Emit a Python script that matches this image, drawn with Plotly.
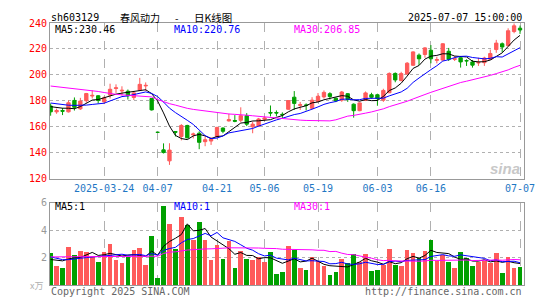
import plotly.graph_objects as go

# ---------------- data ----------------
dates = ["2025-03-11","2025-03-12","2025-03-13","2025-03-14","2025-03-17","2025-03-18","2025-03-19","2025-03-20","2025-03-21",
         "2025-03-24","2025-03-25","2025-03-26","2025-03-27","2025-03-28","2025-03-31","2025-04-01","2025-04-02","2025-04-03",
         "2025-04-07","2025-04-08","2025-04-09","2025-04-10","2025-04-11","2025-04-14","2025-04-15","2025-04-16","2025-04-17",
         "2025-04-18","2025-04-21","2025-04-22","2025-04-23","2025-04-24","2025-04-25","2025-04-28","2025-04-29","2025-04-30",
         "2025-05-06","2025-05-07","2025-05-08","2025-05-09","2025-05-12","2025-05-13","2025-05-14","2025-05-15","2025-05-16",
         "2025-05-19","2025-05-20","2025-05-21","2025-05-22","2025-05-23","2025-05-26","2025-05-27","2025-05-28","2025-05-29",
         "2025-05-30","2025-06-03","2025-06-04","2025-06-05","2025-06-06","2025-06-09","2025-06-10","2025-06-11","2025-06-12",
         "2025-06-13","2025-06-16","2025-06-17","2025-06-18","2025-06-19","2025-06-20","2025-06-23","2025-06-24","2025-06-25",
         "2025-06-26","2025-06-27","2025-06-30","2025-07-01","2025-07-02","2025-07-03","2025-07-04","2025-07-07"]

opens = [176.0,171.5,172.5,171.5,180.3,173.8,180.1,183.7,183.9,
         179.3,184.4,189.5,187.6,187.4,182.6,188.1,191.5,181.8,
         155.7,142.2,133.7,156.3,152.5,161.0,153.8,155.0,148.5,
         149.0,152.5,159.0,164.5,164.8,165.0,168.5,160.0,160.5,
         165.8,171.0,171.0,169.6,173.5,182.8,176.5,176.8,174.2,
         179.5,183.0,185.5,182.0,180.5,185.5,177.4,172.4,180.3,
         184.7,184.7,180.5,186.2,201.1,195.6,200.6,207.4,215.2,
         215.7,219.0,211.2,211.4,218.2,212.0,213.2,211.0,210.0,
         209.2,209.4,212.0,219.5,224.0,222.5,233.4,236.0]
highs = [178.0,174.0,174.5,180.3,182.6,182.3,186.1,188.1,184.4,
         183.5,193.2,192.7,191.2,188.7,187.6,197.7,194.2,181.8,
         155.7,147.2,147.3,156.5,162.0,161.5,155.5,156.5,152.5,
         152.0,160.0,159.5,170.0,169.0,175.0,170.5,164.0,166.8,
         168.0,176.4,172.6,171.1,180.6,187.5,179.1,178.0,182.8,
         186.0,188.0,186.6,182.5,187.6,186.0,178.0,178.8,187.2,
         186.2,185.5,189.3,201.9,201.9,202.4,209.9,218.2,216.5,
         221.5,223.0,214.0,224.5,220.8,214.5,213.5,212.0,211.5,
         213.2,214.0,219.5,227.0,225.0,235.9,239.6,238.0]
lows = [168.5,170.0,169.0,171.0,172.5,173.0,178.6,181.8,178.0,
        177.5,181.8,186.1,184.1,181.0,180.6,187.6,187.6,172.5,
        155.7,139.4,130.6,152.5,149.5,151.0,151.0,142.7,145.0,
        146.0,151.5,155.0,164.0,163.5,163.5,160.5,155.0,160.0,
        164.5,168.0,168.0,166.8,173.0,173.0,173.0,172.6,173.5,
        179.0,181.7,181.0,179.0,179.2,179.2,167.0,172.0,179.8,
        181.7,176.2,179.2,186.0,194.3,195.0,200.3,206.9,207.4,
        213.2,208.9,208.9,211.0,210.7,210.7,205.6,206.9,205.6,
        206.9,206.9,211.5,217.0,217.5,222.0,232.1,231.6]
closes = [171.5,172.5,172.0,178.5,175.0,179.8,185.6,184.2,180.3,
          182.3,188.9,190.0,188.1,183.9,186.1,192.7,191.9,173.0,
          155.7,140.1,142.0,155.8,161.0,151.5,154.4,148.0,150.0,
          150.5,159.5,156.5,165.5,164.3,168.5,162.0,162.0,166.0,
          166.8,170.6,170.6,169.3,180.2,178.0,177.0,176.5,180.5,
          183.5,186.5,183.3,180.0,186.8,181.0,172.4,178.4,186.1,
          182.7,181.7,188.0,201.1,196.1,201.0,209.0,217.7,212.4,
          220.8,212.4,211.8,224.0,212.0,212.4,210.0,210.8,207.5,
          209.5,213.0,216.5,224.5,221.5,234.0,237.8,234.6]
volumes = [2.35,1.38,1.23,2.78,2.18,2.47,2.42,2.03,1.69,
           2.42,3.00,1.84,1.62,2.03,2.57,2.71,1.48,3.58,
           0.53,5.81,4.46,2.66,4.96,4.41,3.27,4.65,3.30,
           1.85,2.95,1.90,3.25,1.25,2.50,1.90,1.85,2.05,
           1.70,2.40,0.80,0.97,2.85,2.56,1.24,1.10,2.05,
           1.76,1.39,0.73,0.97,1.90,1.60,2.27,1.68,2.27,
           1.02,1.10,1.51,2.63,1.51,1.39,2.56,2.34,1.98,
           2.49,3.29,1.76,2.20,1.71,1.24,2.41,1.98,1.39,
           1.68,1.76,1.61,2.34,0.88,2.05,1.24,1.32]

# moving-average values at the left edge (their history lies before the chart)
price_ma5_head = [175.5,174.8,174.3,174.3]
price_ma10_head = [178.3,177.6,176.9,176.6,176.5,176.5,176.7,177.2,177.8]
price_ma30_head = [191.4,190.9,190.4,189.8,189.3,188.9,188.5,188.1,187.2,186.4,185.6,185.0,184.6,184.2,
                   184.0,183.8,183.5,183.0,181.0,179.3,177.8,176.7,175.3,174.2,173.4,172.8,172.2,171.6,170.9]
vol_ma5_head = [1.86,1.80,1.76,1.90]
vol_ma10_head = [2.05,1.95,1.85,1.85,1.88,1.95,2.00,2.03,2.05]
vol_ma30_head = [2.05]*18 + [2.10,2.30,2.40,2.42,2.50,2.55,2.58,2.63,2.63,2.64,2.64]

tick_dates = ["2025-03-24","2025-04-07","2025-04-21","2025-05-06","2025-05-19","2025-06-03","2025-06-16","2025-07-07"]
tick_texts = ["2025-03-24","04-07","04-21","05-06","05-19","06-03","06-16","07-07"]
price_ticks = [120,140,160,180,200,220,240]
vol_ticks = [2,4,6]

stock_code = "sh603129"
title_name = "春风动力"
title_sep = "-"
title_kind = "日K线图"
time_text = "2025-07-07 15:00:00"
ma_price_labels = ["MA5:230.46", "MA10:220.76", "MA30:206.85"]
ma_vol_labels = ["MA5:1", "MA10:1", "MA30:1"]

# ---------------- helpers ----------------
def rolling(vals, n, head):
    out = list(head)
    for i in range(len(head), len(vals)):
        out.append(sum(vals[i - n + 1:i + 1]) / n)
    return out

RED = "#ff5a5a"
GREEN = "#00a000"
MONO = "DejaVu Sans Mono"
CJK = "Noto Sans CJK SC"

# the page body has an 8px margin; the figure is sized so the plot sits where the reference has it
OFF = 8
W, H = 545 - OFF, 300 - OFF
PLOT_L, PLOT_R, PLOT_T, PLOT_B = 50, 529, 17.5, 286   # page pixels of the plot area
ML, MR = PLOT_L - OFF, W - (PLOT_R - OFF)
MT, MB = PLOT_T - OFF, H - (PLOT_B - OFF)
PW, PH = PLOT_R - PLOT_L, PLOT_B - PLOT_T

def px(x):
    return (x - PLOT_L) / PW

def py(y):
    return (PLOT_B - y) / PH

main_dom = [py(177), 1.0]
vol_dom = [0, py(201.7)]

fig = go.Figure()

fig.add_trace(go.Candlestick(
    x=dates, open=opens, high=highs, low=lows, close=closes,
    increasing=dict(line=dict(color=RED, width=1), fillcolor=RED),
    decreasing=dict(line=dict(color=GREEN, width=1), fillcolor=GREEN),
    whiskerwidth=0, xaxis="x", yaxis="y", showlegend=False, hoverinfo="skip"))

for vals, head, n, col in [(closes, price_ma5_head, 5, "black"),
                           (closes, price_ma10_head, 10, "#0000ff"),
                           (closes, price_ma30_head, 30, "#ff00ff")]:
    fig.add_trace(go.Scatter(x=dates, y=rolling(vals, n, head), mode="lines",
                             line=dict(color=col, width=1), xaxis="x", yaxis="y",
                             showlegend=False, hoverinfo="skip"))

vol_colors = [RED if c > o else GREEN for o, c in zip(opens, closes)]
fig.add_trace(go.Bar(x=dates, y=volumes, marker=dict(color=vol_colors, line=dict(width=0)),
                     width=0.78, xaxis="x2", yaxis="y2", showlegend=False, hoverinfo="skip"))

for vals, head, n, col in [(volumes, vol_ma5_head, 5, "black"),
                           (volumes, vol_ma10_head, 10, "#0000ff"),
                           (volumes, vol_ma30_head, 30, "#ff00ff")]:
    fig.add_trace(go.Scatter(x=dates, y=rolling(vals, n, head), mode="lines",
                             line=dict(color=col, width=1), xaxis="x2", yaxis="y2",
                             showlegend=False, hoverinfo="skip"))

xr = [-0.11, 79.67]
axis_common = dict(showline=True, mirror=True, linecolor="#999999", linewidth=1,
                   zeroline=False, fixedrange=True)

fig.update_layout(
    width=W, height=H,
    margin=dict(l=ML, r=MR, t=MT, b=MB, pad=0),
    paper_bgcolor="white", plot_bgcolor="white",
    boxgap=0.2,
    bargap=0,
    xaxis=dict(type="category", range=xr, domain=[0, 1], anchor="y",
               tickmode="array", tickvals=tick_dates, ticktext=tick_texts,
               showgrid=True, gridcolor="#b0b0b0", griddash="dash", gridwidth=1,
               tickfont=dict(family=MONO, size=10, color="#1f77c4"),
               ticks="", rangeslider=dict(visible=False), **axis_common),
    yaxis=dict(range=[120, 240], domain=main_dom, anchor="x",
               tickmode="array", tickvals=price_ticks,
               showgrid=True, gridcolor="#b0b0b0", griddash="dot", gridwidth=1,
               tickfont=dict(family=MONO, size=10, color="#ff0000"),
               ticks="", **axis_common),
    xaxis2=dict(type="category", range=xr, domain=[0, 1], anchor="y2", matches="x",
                tickmode="array", tickvals=tick_dates, showticklabels=False,
                showgrid=True, gridcolor="#b0b0b0", griddash="dash", gridwidth=1,
                ticks="", **axis_common),
    yaxis2=dict(range=[0, 6], domain=vol_dom, anchor="x2",
                tickmode="array", tickvals=vol_ticks,
                showgrid=True, gridcolor="#b0b0b0", griddash="dot", gridwidth=1,
                tickfont=dict(family=MONO, size=10, color="#999999"),
                ticks="", **axis_common),
)

ann = []
def text(x, y, s, color="black", size=10, anchor="left", family=MONO, opacity=1.0):
    ann.append(dict(xref="paper", yref="paper", x=px(x), y=py(y), text=s, showarrow=False,
                    xanchor=anchor, yanchor="middle", font=dict(family=family, size=size, color=color),
                    opacity=opacity))

text(49, 11.5, stock_code, size=10)
text(119, 11.5, title_name, size=10, family=CJK)
text(178.5, 11.5, title_sep, size=10, anchor="center", family=CJK)
text(194, 11.5, title_kind, size=10.5, family=CJK)
text(529, 11.5, time_text, size=10, anchor="right")
text(53.5, 23.7, ma_price_labels[0], color="black")
text(173.5, 23.7, ma_price_labels[1], color="#0000ff")
text(294.5, 23.7, ma_price_labels[2], color="#ff00ff")
text(53.5, 206, ma_vol_labels[0], color="black")
text(173.5, 206, ma_vol_labels[1], color="#0000ff")
text(294.5, 206, ma_vol_labels[2], color="#ff00ff")
text(49, 292.5, "Copyright 2025 SINA.COM", color="#666666")
text(529, 292.5, "http://finance.sina.com.cn", color="#666666", anchor="right")
text(28, 287, "x万", color="#b0b0b0", size=9, family=CJK)
text(527, 167, "<b><i>sina</i></b>", color="#c8c8c8", size=15, anchor="right", family="Liberation Sans")

fig.update_layout(annotations=ann)

fig.write_html("out.html")
